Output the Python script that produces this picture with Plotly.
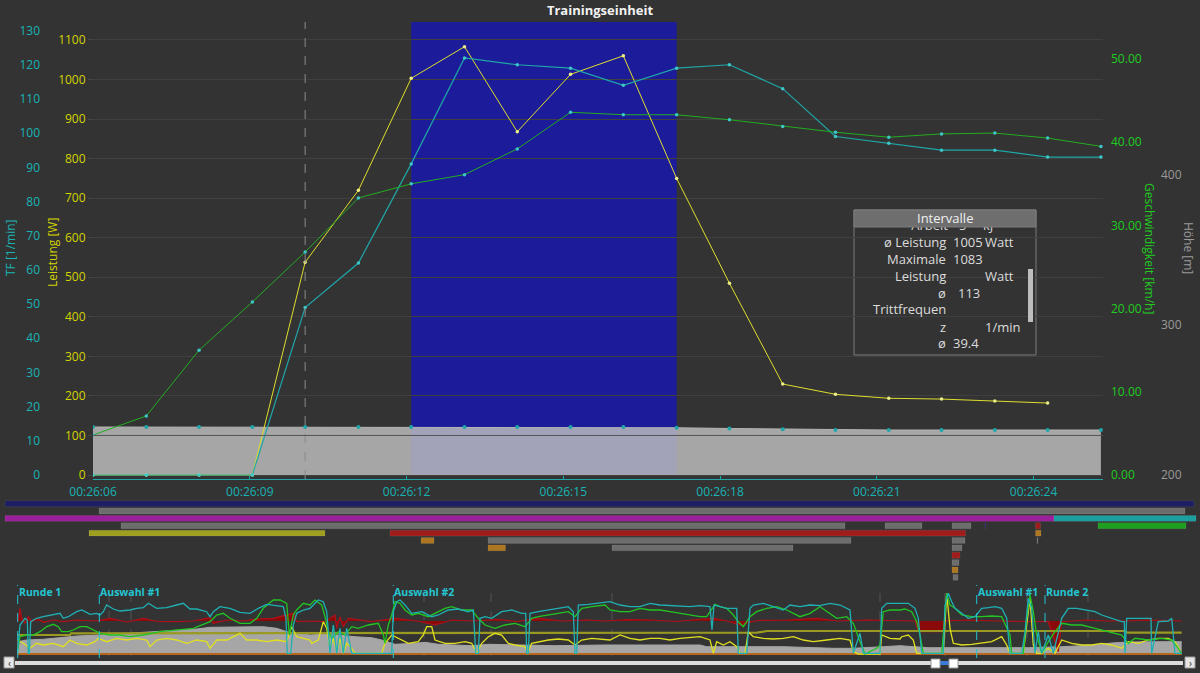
import plotly.graph_objects as go

W, H = 1200, 673
BG = "#333333"
FONT = "Open Sans"

# ---------------- main chart data ----------------
sample_time_s = [6.00, 7.02, 8.03, 9.05, 10.06, 11.08, 12.09, 13.11, 14.12, 15.14,
                 16.15, 17.17, 18.18, 19.20, 20.21, 21.23, 22.24, 23.26, 24.27, 25.29]
tf_rpm = [0, 0, 0, 0, 49, 62, 91, 122, 120, 119, 114, 119, 120, 113, 99, 97, 95, 95, 93, 93]
power_w = [0, 0, 0, 0, 538, 720, 1003, 1083, 868, 1013, 1060, 750, 485, 230, 204, 194, 192, 187, 182]
speed_kmh = [4.8, 7.1, 15.0, 20.8, 26.8, 33.3, 35.0, 36.1, 39.2, 43.6, 43.3, 43.3, 42.7, 41.9,
             41.2, 40.6, 41.0, 41.1, 40.5, 39.5]
altitude_m = [232, 232, 232, 232, 232, 232, 232, 232, 232, 232, 232, 231.5, 231, 230.5,
              230, 230, 230, 230, 230, 230]
altitude_floor_m = 200
power_ref_w = 100
cursor_sample = 4
interval_first, interval_last = 6, 11

x_tick_vals = [6, 9, 12, 15, 18, 21, 24]
x_tick_text = ["00:26:06", "00:26:09", "00:26:12", "00:26:15", "00:26:18", "00:26:21", "00:26:24"]
power_ticks = list(range(0, 1101, 100))
tf_ticks = list(range(0, 131, 10))
speed_ticks = [0, 10, 20, 30, 40, 50]
alt_ticks = [200, 300, 400]

# Intervalle panel rows: (label, value, unit, value_x_px)
interval_first_row = ("Arbeit", "5", "kJ")
interval_rows = [
    ("ø Leistung", "1005", "Watt", 951),
    ("Maximale", "1083", "", 951),
    ("Leistung", "", "Watt", 951),
    ("ø", "113", "", 956),
    ("Trittfrequen", "", "", 951),
    ("z", "", "1/min", 951),
    ("ø", "39.4", "", 951),
]

# ---------------- overview (whole ride) data: (time unit, level) ----------------
ov_altitude = [(0.5, 12.3), (9.7, 14), (26.3, 14.7), (43, 16.3), (59.7, 18), (83, 19), (109.7, 20.7),
               (143, 22.3), (159.7, 24), (179.7, 25), (193, 26.7), (236.3, 26.7), (246.3, 27.3),
               (259.7, 25.7), (269.7, 22.3), (279.7, 20.7), (293, 19), (304.7, 19.7), (321.3, 19),
               (338, 17.3), (354.7, 16.3), (364.7, 14), (378, 9.7), (398, 10.7), (408, 11.7),
               (421.3, 9.7), (438, 9), (454.7, 8.3), (471.3, 9.7), (504.7, 9), (538, 8.3), (588, 9),
               (683, 9), (689.7, 7.3), (766.3, 7.3), (816.3, 5.7), (836.3, 5.7), (866.3, 7.3),
               (883, 8.3), (911.3, 6.3), (1011.3, 6.3), (1044.7, 7.3), (1078, 9), (1094.7, 11),
               (1111.3, 12), (1144.7, 12.3), (1164.7, 12.3)]
ov_tf = [(0.5, 2.3), (3, 29), (8, 35.7), (10.3, 34), (11.3, 0.7), (12.3, 0.7), (13.7, 32.3), (19.7, 35.7),
         (26.3, 37.3), (36.3, 39), (43, 40.7), (46.3, 35.7), (51.3, 37.3), (59.7, 42.3), (64.7, 44),
         (68, 42.3), (73, 39.7), (79.7, 40.7), (83, 39), (86.3, 42.3), (89.7, 49), (96.3, 45), (103, 43),
         (113, 44), (119.7, 45.7), (126.3, 46.3), (131.3, 50.7), (139.7, 45.7), (149.7, 46.3),
         (159.7, 49), (166.3, 50.7), (173, 45), (179.7, 45), (189.7, 42.3), (193, 37.3), (196.3, 42.3),
         (203, 47.3), (213, 45.7), (223, 41.7), (233, 40.7), (241.3, 45.7), (249.7, 49.7), (256.3, 49),
         (266.3, 47.3), (269, 35.7), (270.3, 0.7), (273.7, 0.7), (276.3, 29), (279.7, 40.7),
         (286.3, 44), (293, 45.7), (301.3, 54), (306.3, 52.3), (309.7, 42.3), (313, 0.7), (316.3, 29),
         (319.7, 0.7), (323, 25.7), (326.3, 0.7), (329.7, 25.7), (334.7, 0.7), (374.7, 0.7),
         (376.3, 42.3), (379.7, 52.3), (383, 54), (388, 49), (394.7, 40.7), (404.7, 42.3),
         (414.7, 37.3), (421.3, 39), (431.3, 44), (441.3, 45), (451.3, 42.3), (456.3, 44),
         (458.7, 0.7), (461.3, 0.7), (463, 35.7), (468, 37.3), (474.7, 35.7), (484.7, 42.3),
         (494.7, 44), (504.7, 40.7), (508.7, 40.7), (509.7, 0.7), (511.3, 0.7), (513, 40.7),
         (521.3, 42.3), (531.3, 44), (541.3, 45.7), (551.3, 47.3), (556.3, 42.3), (558, 0.7),
         (559.7, 0.7), (561.3, 49), (571.3, 49.7), (581.3, 50.7), (593, 52.3), (603, 49),
         (613, 47.3), (623, 47.3), (633, 50.7), (643, 49), (653, 48.3), (663, 48.3), (673, 47.3),
         (683, 48.3), (693, 47.3), (695, 24), (697, 49), (703, 47.3), (709.7, 45.7), (719.7, 45.7),
         (721.3, 0.7), (729.7, 0.7), (733, 45.7), (736.3, 49), (746.3, 50.7), (756.3, 47.3),
         (766.3, 44), (773, 49), (783, 47.3), (793, 49), (803, 48.3), (813, 50.7), (823, 49),
         (833, 44), (836.3, 0.7), (843, 20.7), (846.3, 0.7), (863, 0.7), (864.7, 45.7), (869.7, 50.7),
         (883, 50.7), (891.3, 50.7), (898, 45.7), (901.3, 35.7), (904.7, 0.7), (926.3, 0.7),
         (928, 49), (931.3, 60.7), (934.7, 52.3), (938, 45.7), (944.7, 40.7), (951.3, 35.7),
         (958, 37.3), (964.7, 45.7), (971.3, 46.3), (978, 47.3), (984.7, 45.7), (989.7, 35.7),
         (993, 0.7), (1004.7, 0.7), (1008, 22.3), (1011.3, 55.7), (1014.7, 45.7), (1018, 0.7),
         (1021.3, 22.3), (1024.7, 0.7), (1031.3, 19), (1036.3, 0.7), (1044.7, 35.7), (1051.3, 45.7),
         (1059.7, 45.7), (1071.3, 44), (1078, 42.3), (1084.7, 39), (1094.7, 35.7), (1104.7, 32.3),
         (1107.3, 32.3), (1108, 0.7), (1109.7, 35.7), (1121.3, 35.7), (1131.3, 35.7), (1134, 35.7),
         (1134.7, 0.7), (1141.3, 32.3), (1151.3, 33), (1154.7, 35.7), (1158, 0.7), (1164.7, 0.7)]
ov_speed = [(0.5, 2.3), (3, 17.3), (9.7, 19), (16.3, 19), (23, 22.3), (29.7, 27.3), (36.3, 29.7),
            (41.3, 27.3), (44.7, 22.3), (51.3, 22.3), (56.3, 24), (63, 27.3), (69.7, 27.3), (76.3, 24),
            (83, 20.7), (93, 19), (103, 19), (113, 17.3), (126.3, 19), (143, 22.3), (159.7, 24),
            (176.3, 25.7), (193, 32.3), (199.7, 39), (206.3, 40.7), (213, 35.7), (223, 30.7),
            (233, 30.7), (239.7, 35.7), (246.3, 45.7), (256.3, 54), (263, 54), (269.7, 50.7),
            (272.3, 19), (276.3, 39), (279.7, 44), (286.3, 50.7), (293, 49), (298, 54), (304.7, 49),
            (308, 37.3), (311.3, 22.3), (314.7, 15.7), (318, 19), (321.3, 22.3), (328, 19),
            (334.7, 27.3), (341.3, 25.7), (351.3, 29), (361.3, 30.7), (366.3, 19), (368, 10.7),
            (371.3, 29), (374.7, 39), (378, 52.3), (383, 50.7), (388, 44), (394.7, 39), (401.3, 40.7),
            (411.3, 37.3), (421.3, 42.3), (428, 45.7), (434.7, 47.3), (444.7, 44), (454.7, 44),
            (461.3, 35.7), (468, 29), (478, 25.7), (488, 29), (498, 30.7), (508, 27.3), (514.7, 35.7),
            (521.3, 37.3), (531.3, 39), (541.3, 40.7), (551.3, 42.3), (558, 37.3), (564.7, 45.7),
            (574.7, 47.3), (588, 49), (593, 44), (603, 42.3), (613, 42.3), (623, 45.7), (633, 44),
            (643, 44), (653, 42.3), (663, 40.7), (673, 39), (683, 37.3), (689.7, 37.3), (698, 49.7),
            (703, 47.3), (709.7, 45.7), (716.3, 39), (721.3, 32.3), (726.3, 27.3), (729.7, 32.3),
            (733, 37.3), (739.7, 42.3), (749.7, 45.7), (759.7, 47.3), (769.7, 44), (783, 37.3),
            (793, 40.7), (803, 47.3), (813, 40.7), (819.7, 35.7), (829.7, 37.3), (836.3, 30.7),
            (843, 12.3), (848, 0), (859.7, 5.7), (863, 9), (866.3, 42.3), (873, 44), (883, 44),
            (888, 45), (894.7, 42.3), (899.7, 32.3), (903, 19), (906.3, 0.7), (924.7, 0.7),
            (929.7, 60.7), (933, 49), (938, 45.7), (944.7, 39), (954.7, 37.3), (964.7, 37.3),
            (974.7, 38), (984.7, 37.3), (993, 19), (994.7, 0.7), (1006.3, 0.7), (1009.7, 35.7),
            (1013, 59), (1016.3, 42.3), (1019.7, 19), (1024.7, 0.7), (1031.3, 12.3), (1038, 22.3),
            (1044.7, 30.7), (1054.7, 29), (1064.7, 29), (1078, 25.7), (1091.3, 22.3), (1104.7, 19),
            (1111.3, 10.7), (1118, 15.7), (1131.3, 14), (1144.7, 15.7), (1154.7, 14), (1161.3, 5.7),
            (1164.7, 0)]
ov_power = [(0.5, 14), (6.3, 10.7), (13, 5.7), (19.7, 10.7), (26.3, 9), (36.3, 10.7), (46.3, 7.3),
            (53, 14), (59.7, 10.7), (69.7, 9), (78, 12.3), (81.3, 15.7), (89.7, 12.3), (99.7, 15.7),
            (109.7, 14), (119.7, 15.7), (129.7, 14), (133, 7.3), (139.7, 14), (149.7, 15.7),
            (159.7, 14), (169.7, 10.7), (179.7, 14), (189.7, 12.3), (193, 5.7), (199.7, 14),
            (209.7, 14), (223, 20.7), (229.7, 14), (239.7, 14), (249.7, 12.3), (259.7, 14),
            (269.7, 12.3), (274.7, 27.3), (279.7, 17.3), (286.3, 15.7), (293, 14), (294.7, 10.7),
            (301.3, 14), (306.3, 32.3), (309.7, 25.7), (313, 5.7), (316.3, 15.7), (319.7, 2.3),
            (323, 15.7), (326.3, 0.7), (329.7, 10.7), (334.7, 5.7), (338, 0.7), (364.7, 0.7),
            (368, 10.7), (374.7, 19), (378, 17.3), (384.7, 14), (391.3, 10.7), (401.3, 12.3),
            (406.3, 19), (409.7, 27.3), (414.7, 27.3), (418, 14), (428, 10.7), (438, 10.7),
            (448, 12.3), (454.7, 10.7), (459.7, 0.7), (464.7, 10.7), (471.3, 17.3), (478, 20.7),
            (484.7, 19), (491.3, 10.7), (498, 9), (508, 7.3), (510.7, 0.7), (514.7, 10.7),
            (521.3, 12.3), (531.3, 14), (541.3, 15), (551.3, 14), (558, 9), (564.7, 14),
            (574.7, 15.7), (588, 14.7), (593, 14), (603, 19), (613, 15.7), (623, 14), (633, 15.7),
            (643, 15.7), (653, 14), (663, 15.7), (673, 16.3), (683, 17.3), (693, 14), (696.3, 0.7),
            (699.7, 12.3), (706.3, 9), (713, 12.3), (719.7, 7.3), (723, 0.7), (728, 0.7),
            (731.3, 22.3), (736.3, 17.3), (746.3, 15.7), (756.3, 15), (766.3, 15.7), (776.3, 17.3),
            (786.3, 14), (796.3, 12.3), (809.7, 14), (823, 15.7), (833, 14), (836.3, 2.3),
            (841.3, 0), (863, 0), (864.7, 19), (873, 15.7), (883, 15), (884.7, 17.3), (891.3, 19),
            (896.3, 14), (899.7, 0.7), (926.3, 0.7), (929.7, 60.7), (933, 25.7), (936.3, 10.7),
            (944.7, 9), (954.7, 9.7), (964.7, 10.7), (974.7, 12.3), (984.7, 17.3), (989.7, 9),
            (993, 0.7), (1006.3, 0.7), (1009.7, 29), (1013, 55.7), (1016.3, 9), (1019.7, 0.7),
            (1024.7, 0.7), (1031.3, 5.7), (1038, 0.7), (1044.7, 14), (1054.7, 10.7), (1064.7, 9),
            (1074.7, 9), (1084.7, 10.7), (1094.7, 9), (1104.7, 5.7), (1111.3, 12.3), (1121.3, 10.7),
            (1131.3, 14), (1141.3, 15.7), (1151.3, 15.7), (1158, 12.3), (1163, 4)]
ov_balance = [(0.5, 32.3), (3, 45.7), (4.7, 35.7), (8, 30.7), (11.3, 37.3), (14.7, 32.3), (19.7, 35.7),
              (26.3, 31.7), (36.3, 34), (46.3, 32.3), (59.7, 34), (79.7, 33), (93, 35.7), (110, 32),
              (126.3, 35.7), (140, 32.5), (159.7, 32.3), (176.3, 33), (193, 36.3), (196.3, 30.7),
              (210, 34), (226.3, 33), (240, 35), (256.3, 35.7), (276.3, 40.7), (279.7, 32.3), (293, 33),
              (308, 32.3), (318, 39), (319.7, 25.7), (323, 37.3), (326.3, 27.3), (331.3, 35.7),
              (354.7, 32.3), (378, 35.7), (400, 33), (418, 29), (435, 34), (454.7, 33), (480, 34.5),
              (500, 32.5), (521.3, 35.7), (545, 33), (570, 34), (588, 33), (610, 34.5), (633, 34),
              (660, 32.5), (680, 34.5), (696.3, 35.7), (710, 33), (723, 29), (740, 33.5), (770, 34),
              (799.7, 35.7), (820, 33), (850, 34), (883, 33), (898, 33), (901.3, 22.3), (926.3, 22.3),
              (928, 33), (950, 34), (980, 33), (1011.3, 33), (1031.3, 32.3), (1041.3, 2.3),
              (1044.7, 32.3), (1070, 34), (1090, 33), (1111.3, 33), (1130, 34), (1164.7, 33)]
ov_balance_ref = 33
ov_avg_power = [(0.5, 19), (53, 19), (54, 20.7), (200, 20.7), (201, 21.3), (740, 21.3), (750, 23),
                (1108, 23), (1110, 21.3), (1164.7, 21.3)]
ov_end = 1164.7
ov_markers = [("Runde 1", 0.7), ("Auswahl #1", 82.3), ("Auswahl #2", 376.3),
              ("Auswahl #1", 959.7), ("Runde 2", 1028)]
ov_gridmarks = [92, 114, 407, 474, 595, 863, 928, 1010, 1071]

# ---------------- timeline segments: row -> (start, end, colour key) ----------------
seg_rows = [
    [(5, 1194, "navy")],
    [(99, 1185, "gray")],
    [(5, 1054, "magenta"), (1054, 1196, "teal")],
    [(121, 845, "gray"), (885, 922, "gray"), (952, 971, "gray"), (985, 986, "navy"),
     (1035.5, 1040.5, "red"), (1098, 1186, "green")],
    [(89, 325, "olive"), (390, 965.5, "red"), (1035.5, 1041, "orange")],
    [(421, 434, "orange"), (488, 851, "gray"), (952, 965, "gray"), (1037, 1038, "gray")],
    [(488, 505.5, "orange"), (612, 793, "gray"), (952, 962, "gray")],
    [(952, 960, "red")],
    [(952, 959, "gray")],
    [(952, 958, "orange")],
    [(953, 958, "gray")],
]
seg_colors = {"navy": "#1e1e62", "gray": "#6d6d6d", "magenta": "#9b1f9b", "teal": "#1c9f9f",
              "olive": "#9e9e20", "red": "#9e1c1c", "orange": "#ad7620", "green": "#1f9f1f"}

# ---------------- colours ----------------
C_TEAL = "#1fa6a8"
C_TEAL_T = "#19b3b5"
C_YEL = "#dede2e"
C_YEL_T = "#d4d400"
C_GRN = "#22ad22"
C_GRN_T = "#1fcc1f"
C_GRAY_T = "#9a9a9a"
C_CYAN = "#23c6d2"


def px(x):
    return x / W


def py(y):
    return 1 - y / H


MAIN_L, MAIN_R, MAIN_T, MAIN_B = 93, 1103, 22, 479


def dx(x):  # pixel -> fraction of main x domain
    return (x - MAIN_L) / (MAIN_R - MAIN_L)


def dy(y):  # pixel -> fraction of main y domain
    return (MAIN_B - y) / (MAIN_B - MAIN_T)


fig = go.Figure()

# --- main chart traces ---
fig.add_trace(go.Scatter(x=sample_time_s, y=[altitude_floor_m] * len(sample_time_s), mode="lines",
                         line=dict(width=0), yaxis="y", xaxis="x", hoverinfo="skip"))
fig.add_trace(go.Scatter(x=sample_time_s, y=altitude_m, mode="lines+markers", fill="tonexty",
                         fillcolor="rgba(192,192,192,0.82)", line=dict(color="#b4b4b4", width=1),
                         marker=dict(color=C_TEAL, size=4), yaxis="y", xaxis="x"))
fig.add_trace(go.Scatter(x=sample_time_s[:len(power_w)], y=power_w, mode="lines+markers",
                         line=dict(color=C_YEL, width=1), marker=dict(color="#eeee88", size=3.5),
                         yaxis="y2", xaxis="x"))
fig.add_trace(go.Scatter(x=sample_time_s, y=tf_rpm, mode="lines+markers",
                         line=dict(color=C_TEAL, width=1.2), marker=dict(color="#3cc8c8", size=3.5),
                         yaxis="y3", xaxis="x"))
fig.add_trace(go.Scatter(x=sample_time_s, y=speed_kmh, mode="lines+markers",
                         line=dict(color=C_GRN, width=1), marker=dict(color="#3cc8c8", size=3.5),
                         yaxis="y4", xaxis="x"))

# --- overview traces ---
def xy(pairs):
    return [p[0] for p in pairs], [p[1] for p in pairs]


ax, ay = xy(ov_altitude)
fig.add_trace(go.Scatter(x=ax, y=ay, mode="lines", fill="tozeroy", fillcolor="#a6a6a6",
                         line=dict(color="#a6a6a6", width=1), xaxis="x2", yaxis="y5"))
fig.add_trace(go.Scatter(x=[0.5, ov_end], y=[ov_balance_ref, ov_balance_ref], mode="lines",
                         line=dict(width=0), xaxis="x2", yaxis="y5", hoverinfo="skip"))
bx, by = xy(ov_balance)
fig.add_trace(go.Scatter(x=bx, y=by, mode="lines", fill="tonexty", fillcolor="#8a0a0a",
                         line=dict(color="#b0101a", width=1.2), xaxis="x2", yaxis="y5"))
gx, gy = xy(ov_avg_power)
fig.add_trace(go.Scatter(x=gx, y=gy, mode="lines", line=dict(color="#9a9a22", width=2.2),
                         xaxis="x2", yaxis="y5"))
fig.add_trace(go.Scatter(x=[0.5, ov_end], y=[0, 0], mode="lines", line=dict(color="#b8661c", width=2),
                         xaxis="x2", yaxis="y5"))
px_, py_ = xy(ov_power)
fig.add_trace(go.Scatter(x=px_, y=py_, mode="lines", line=dict(color="#e0e020", width=1.3),
                         xaxis="x2", yaxis="y5"))
sx, sy = xy(ov_speed)
fig.add_trace(go.Scatter(x=sx, y=sy, mode="lines", line=dict(color="#22c422", width=1.3),
                         xaxis="x2", yaxis="y5"))
tx, ty = xy(ov_tf)
fig.add_trace(go.Scatter(x=tx, y=ty, mode="lines", line=dict(color="#1fb0b4", width=1.3),
                         xaxis="x2", yaxis="y5"))

# --- timeline segment bars ---
by_color = {}
for r, segs in enumerate(seg_rows):
    for s, e, c in segs:
        by_color.setdefault(c, ([], [], []))
        by_color[c][0].append(s)
        by_color[c][1].append(e - s)
        by_color[c][2].append(r)
for c, (bases, lens, rows) in by_color.items():
    fig.add_trace(go.Bar(x=lens, base=bases, y=rows, orientation="h", width=0.8,
                         marker=dict(color=seg_colors[c], line=dict(color="rgba(255,255,255,0.12)", width=0.6)),
                         xaxis="x3", yaxis="y6"))

# --- first (scrolled, half hidden) row of the Intervalle panel, clipped by its own small subplot ---
fig.add_trace(go.Scatter(x=[948, 959, 983], y=[0, 0, 0], mode="text",
                         text=list(interval_first_row), textposition=["middle left", "middle right", "middle right"],
                         textfont=dict(color="#dcdcdc", size=13, family=FONT), cliponaxis=True,
                         xaxis="x4", yaxis="y7", hoverinfo="skip"))

shapes = []
annotations = []

# interval highlight and cursor
shapes.append(dict(type="rect", xref="x", yref="y domain", x0=sample_time_s[interval_first],
                   x1=sample_time_s[interval_last], y0=0.01, y1=1, fillcolor="#1c1c9a",
                   line=dict(width=0), layer="below"))
shapes.append(dict(type="line", xref="x", yref="y domain", x0=sample_time_s[cursor_sample],
                   x1=sample_time_s[cursor_sample], y0=0, y1=1,
                   line=dict(color="#8a8a8a", width=1, dash="dash"), layer="above"))
shapes.append(dict(type="line", xref="x domain", yref="y2", x0=0, x1=1, y0=power_ref_w, y1=power_ref_w,
                   line=dict(color="#555555", width=1), layer="above"))

# overview markers
for name, t in ov_markers:
    shapes.append(dict(type="line", xref="x2", yref="paper", x0=t, x1=t, y0=py(658), y1=py(585),
                       line=dict(color=C_CYAN, width=1, dash="dash")))
    annotations.append(dict(xref="x2", yref="paper", x=t, y=py(592), text=f"<b>{name}</b>",
                            showarrow=False, xanchor="left", yanchor="middle", xshift=-1,
                            font=dict(color=C_CYAN, size=10.5, family=FONT)))
for t in ov_gridmarks:
    shapes.append(dict(type="line", xref="x2", yref="paper", x0=t, x1=t, y0=py(656), y1=py(585),
                       line=dict(color="#555555", width=1, dash="dash"), layer="below"))

# Intervalle panel (body sits between the grid and the traces of the main chart)
bx0, bx1, by0, by1 = 854, 1036, 210, 355
shapes.append(dict(type="rect", xref="x domain", yref="y domain", x0=dx(bx0), x1=dx(bx1), y0=dy(by1),
                   y1=dy(by0), fillcolor=BG, line=dict(color="#7c7c7c", width=1), layer="below"))
shapes.append(dict(type="rect", xref="paper", yref="paper", x0=px(bx0), x1=px(bx1), y0=py(227), y1=py(by0),
                   fillcolor="#6e6e6e", line=dict(color="#7c7c7c", width=1), layer="above"))
shapes.append(dict(type="rect", xref="paper", yref="paper", x0=px(1028), x1=px(1033), y0=py(322), y1=py(269),
                   fillcolor="#bdbdbd", line=dict(width=0), layer="above"))
txt = dict(color="#dcdcdc", size=13, family=FONT)
annotations.append(dict(xref="paper", yref="paper", x=px((bx0 + bx1) / 2), y=py(218.5), text="Intervalle",
                        showarrow=False, xanchor="center", yanchor="middle",
                        font=dict(color="#f0f0f0", size=13, family=FONT)))
row_y = [242, 259, 276, 293, 309.5, 326.5, 343]
for (lab, val, unit, vx), yy in zip(interval_rows, row_y):
    annotations.append(dict(xref="paper", yref="paper", x=px(948), y=py(yy), text=lab, showarrow=False,
                            xanchor="right", yanchor="middle", font=txt))
    if val:
        annotations.append(dict(xref="paper", yref="paper", x=px(vx), y=py(yy), text=val, showarrow=False,
                                xanchor="left", yanchor="middle", font=txt))
    if unit:
        annotations.append(dict(xref="paper", yref="paper", x=px(983), y=py(yy), text=unit, showarrow=False,
                                xanchor="left", yanchor="middle", font=txt))

# axis titles
annotations += [
    dict(xref="paper", yref="paper", x=px(10), y=py(248), text="TF [1/min]", textangle=-90, showarrow=False,
         xanchor="center", yanchor="middle", font=dict(color=C_TEAL_T, size=12, family=FONT)),
    dict(xref="paper", yref="paper", x=px(52), y=py(253), text="Leistung [W]", textangle=-90, showarrow=False,
         xanchor="center", yanchor="middle", font=dict(color=C_YEL_T, size=12, family=FONT)),
    dict(xref="paper", yref="paper", x=px(1150), y=py(248), text="Geschwindigkeit [km/h]", textangle=90,
         showarrow=False, xanchor="center", yanchor="middle", font=dict(color=C_GRN_T, size=12, family=FONT)),
    dict(xref="paper", yref="paper", x=px(1189), y=py(248), text="Höhe [m]", textangle=90, showarrow=False,
         xanchor="center", yanchor="middle", font=dict(color=C_GRAY_T, size=12, family=FONT)),
]

# scrollbar chrome
shapes += [
    dict(type="rect", xref="paper", yref="paper", x0=px(15), x1=px(1183), y0=py(665), y1=py(661),
         fillcolor="#dcdcdc", line=dict(width=0)),
    dict(type="rect", xref="paper", yref="paper", x0=px(939), x1=px(950), y0=py(665), y1=py(661),
         fillcolor="#3a7bd5", line=dict(width=0)),
    dict(type="rect", xref="paper", yref="paper", x0=px(931), x1=px(940), y0=py(668), y1=py(659),
         fillcolor="#ffffff", line=dict(color="#999999", width=1)),
    dict(type="rect", xref="paper", yref="paper", x0=px(949), x1=px(958), y0=py(668), y1=py(659),
         fillcolor="#ffffff", line=dict(color="#999999", width=1)),
    dict(type="rect", xref="paper", yref="paper", x0=px(4), x1=px(14), y0=py(668), y1=py(657),
         fillcolor="#e6e6e6", line=dict(color="#9a9a9a", width=1)),
    dict(type="rect", xref="paper", yref="paper", x0=px(1185), x1=px(1195), y0=py(668), y1=py(657),
         fillcolor="#e6e6e6", line=dict(color="#9a9a9a", width=1)),
]
annotations += [
    dict(xref="paper", yref="paper", x=px(9), y=py(662.5), text="‹", showarrow=False,
         xanchor="center", yanchor="middle", font=dict(color="#333333", size=10, family=FONT)),
    dict(xref="paper", yref="paper", x=px(1190), y=py(662.5), text="›", showarrow=False,
         xanchor="center", yanchor="middle", font=dict(color="#333333", size=10, family=FONT)),
]

main_dom = [py(MAIN_B), py(MAIN_T)]
tick_font = dict(size=12, family=FONT)

fig.update_layout(
    width=W, height=H, margin=dict(l=0, r=0, t=0, b=0, autoexpand=False),
    paper_bgcolor=BG, plot_bgcolor=BG, showlegend=False, hovermode=False, barmode="overlay",
    font=dict(family=FONT),
    title=dict(text="<b>Trainingseinheit</b>", x=0.5, xanchor="center", y=py(10), yanchor="middle",
               font=dict(color="#f2f2f2", size=13, family=FONT), automargin=False),
    xaxis=dict(domain=[px(MAIN_L), px(MAIN_R)], range=[6, 25.33], anchor="y", tickvals=x_tick_vals,
               ticktext=x_tick_text, tickfont=dict(color=C_TEAL_T, size=12, family=FONT),
               showgrid=False, zeroline=False, showline=True, linecolor=C_TEAL, linewidth=1,
               ticks="inside", ticklen=3, tickcolor=C_TEAL, ticklabelstandoff=2, automargin=False),
    yaxis=dict(domain=main_dom, range=[197.33, 502], anchor="free", position=px(1160), side="right",
               tickvals=alt_ticks, tickfont=dict(color=C_GRAY_T, **tick_font), showgrid=False,
               zeroline=False, showline=False, ticks="", automargin=False),
    yaxis2=dict(overlaying="y", anchor="free", position=px(MAIN_L), side="left", range=[-10.1, 1145.4],
                tickvals=power_ticks, tickfont=dict(color=C_YEL_T, **tick_font), showgrid=True,
                gridcolor="#404040", gridwidth=1, zeroline=False, showline=False, ticks="outside",
                ticklen=5, tickcolor="#464646", automargin=False),
    yaxis3=dict(overlaying="y", anchor="free", position=px(40), side="left", range=[-1.17, 132.5],
                tickvals=tf_ticks, tickfont=dict(color=C_TEAL_T, **tick_font), showgrid=False,
                zeroline=False, showline=False, ticks="", automargin=False),
    yaxis4=dict(overlaying="y", anchor="free", position=px(1110), side="right", range=[-0.48, 54.45],
                tickvals=speed_ticks, tickformat=".2f", tickfont=dict(color=C_GRN_T, **tick_font),
                showgrid=False, zeroline=False, showline=False, ticks="", automargin=False),
    xaxis2=dict(domain=[px(17), px(1182)], range=[0, 1165], anchor="y5", visible=False),
    yaxis5=dict(domain=[py(657), py(587)], range=[-3, 67], anchor="x2", visible=False),
    xaxis3=dict(domain=[0, 1], range=[0, 1200], anchor="y6", visible=False),
    yaxis6=dict(domain=[py(581), py(500)], range=[10.5, -0.5], anchor="x3", visible=False),
    xaxis4=dict(domain=[px(855), px(1027)], range=[855, 1027], anchor="y7", visible=False),
    yaxis7=dict(domain=[py(233), py(220)], range=[-0.5, 0.5], anchor="x4", visible=False),
    shapes=shapes, annotations=annotations,
)

fig.write_html("out.html", config={"displayModeBar": False, "staticPlot": True},
               post_script="document.body.style.margin='0';document.body.style.overflow='hidden';")
